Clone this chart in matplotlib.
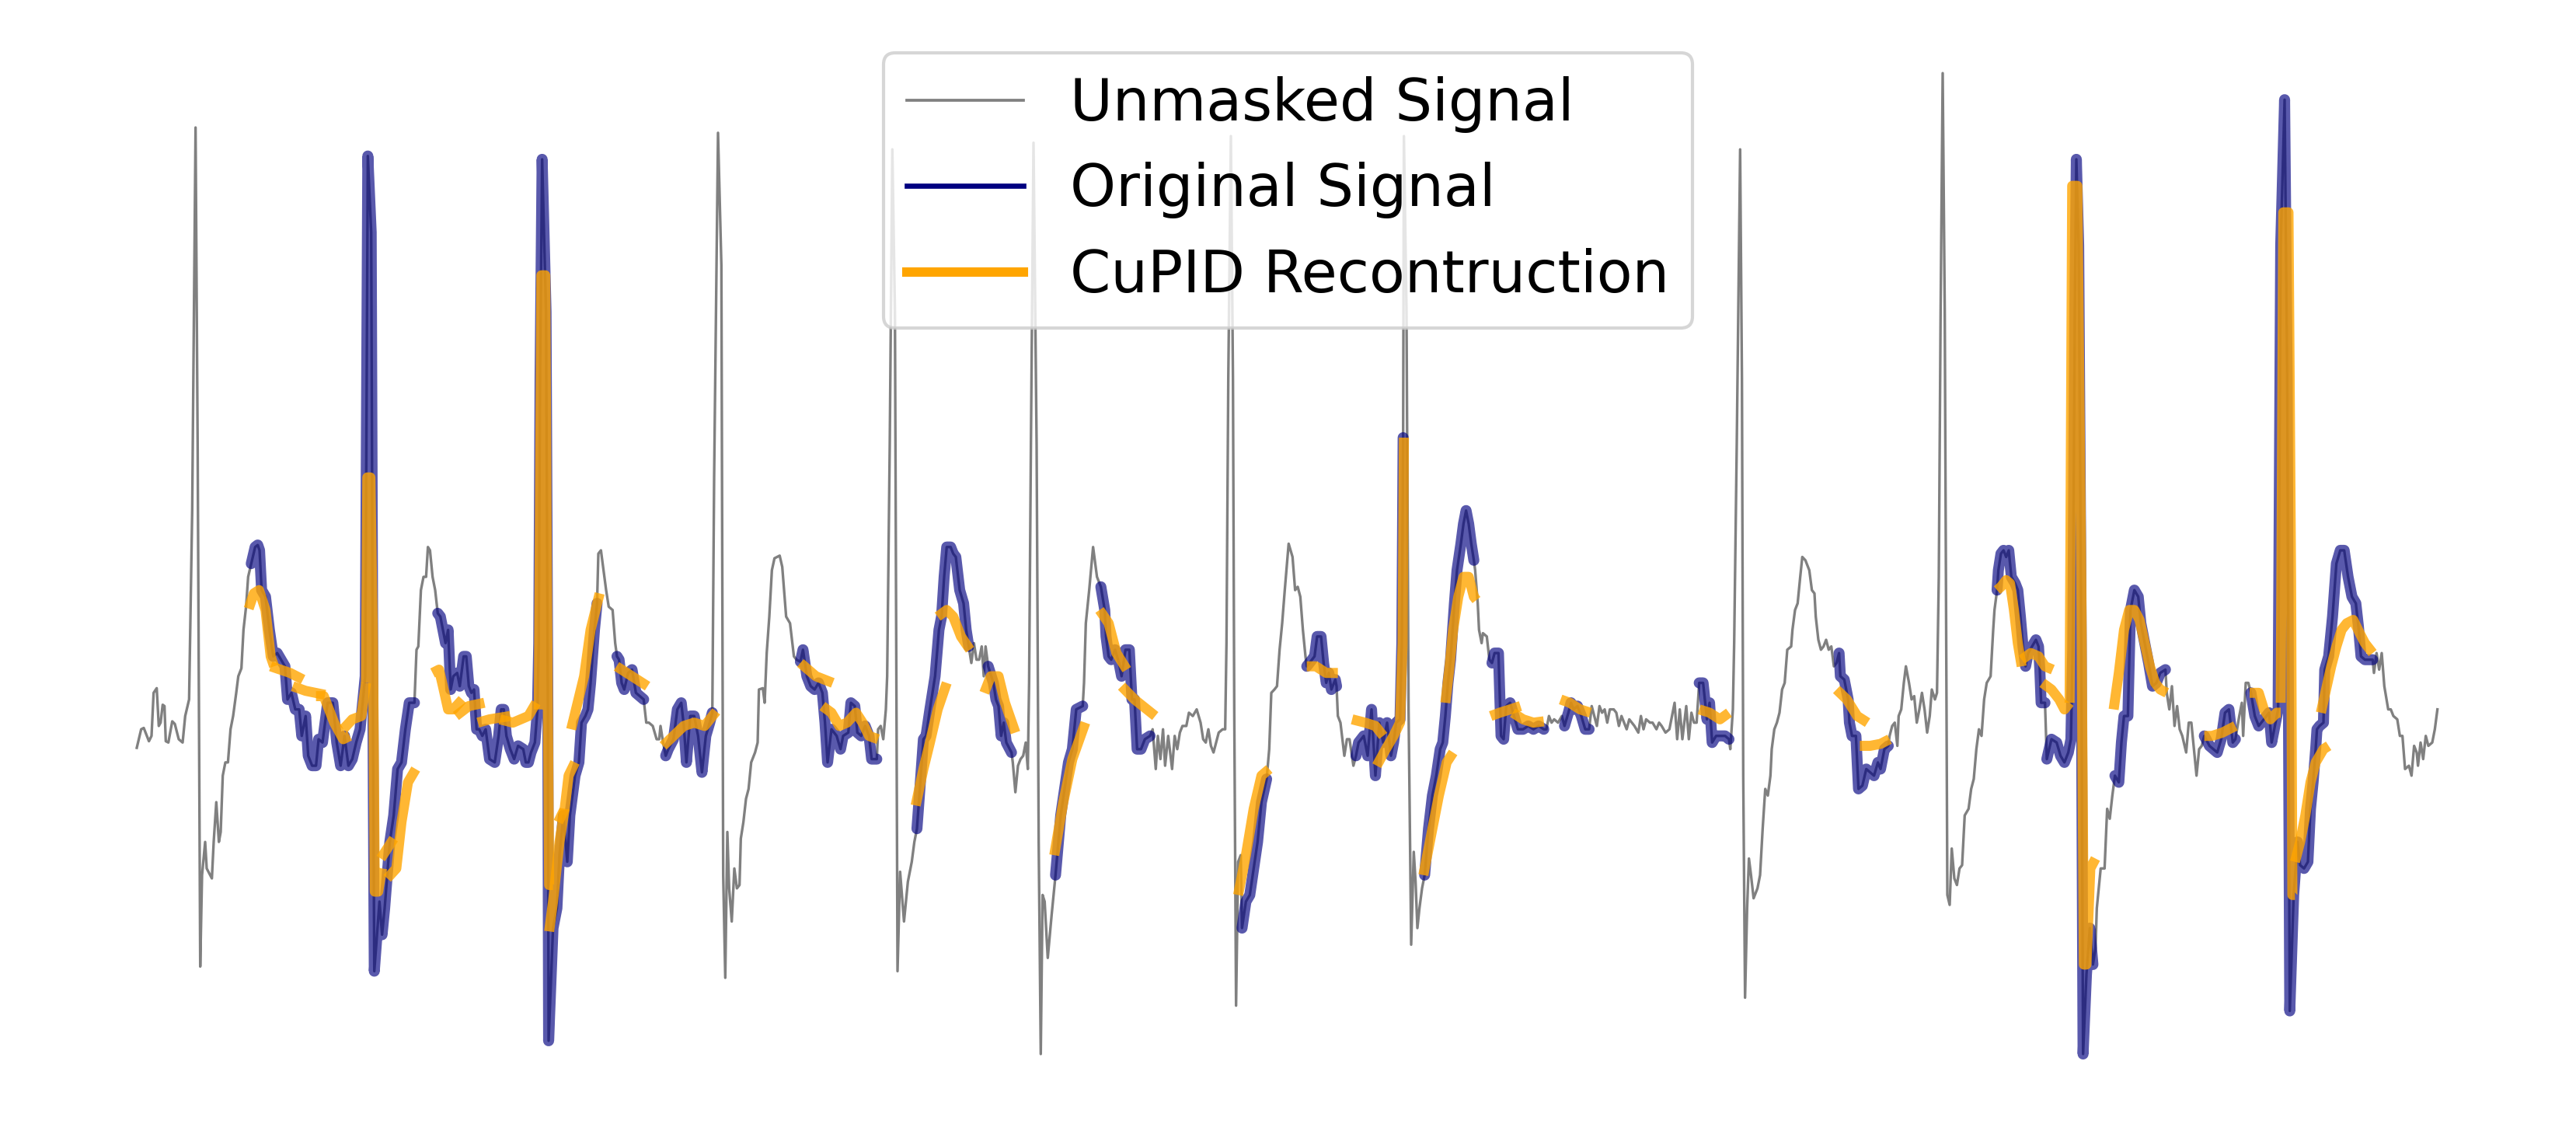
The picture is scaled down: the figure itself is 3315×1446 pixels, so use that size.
import numpy as np
import matplotlib
matplotlib.use('Agg')
import matplotlib.pyplot as plt
from matplotlib.lines import Line2D

# time axis (ms) and amplitude of the ecg window
t_ms = [3, 20, 30, 50, 60, 68, 80, 88, 95, 103, 110, 115, 125, 140, 150, 165, 180, 190, 205, 217,
        230, 238, 248, 255, 267, 273, 293, 300, 310, 320, 327, 335, 345, 355, 365, 375, 387, 395, 407, 415,
        425, 433, 445, 460, 470, 477, 485, 500, 515, 530, 545, 560, 575, 585, 600, 615, 630, 640, 655, 665,
        680, 695, 705, 720,
        740, 760, 775, 790, 805, 820, 835, 850, 865, 885, 895, 908, 915, 920, 940, 950, 960, 970, 980, 995,
        1010, 1025, 1040, 1055, 1075, 1083, 1090, 1100, 1110, 1120, 1127, 1135, 1145, 1155, 1165, 1175, 1185, 1195, 1205, 1215,
        1225, 1240, 1250, 1265, 1275, 1285, 1295, 1305, 1315, 1325, 1337, 1350, 1365, 1385, 1400, 1410, 1420, 1430, 1445, 1460,
        1475, 1495, 1505, 1515, 1525, 1540, 1550, 1555, 1560, 1568, 1583, 1590, 1593, 1610, 1625, 1635, 1650, 1665, 1675, 1695,
        1710, 1720, 1735, 1745, 1755, 1770, 1780, 1785, 1795, 1805, 1815, 1825, 1840, 1850, 1857, 1865, 1875, 1885, 1900, 1915,
        1930, 1945, 1960, 1970, 1980, 1995, 2010, 2020, 2025, 2035, 2045, 2055, 2075, 2090, 2105, 2115, 2125, 2140, 2155, 2170,
        2185, 2200, 2215, 2225,
        2232, 2247, 2260, 2267, 2275, 2283, 2290, 2300, 2310, 2320, 2330, 2335, 2345, 2355, 2365, 2375, 2390, 2400, 2405, 2420,
        2427, 2435, 2445, 2455, 2465, 2485, 2495, 2510, 2525, 2540, 2550, 2565, 2575, 2590, 2605, 2620, 2635, 2650, 2660, 2670,
        2685, 2705, 2720, 2730, 2750, 2760, 2775, 2785, 2800, 2815, 2830, 2840, 2860, 2865, 2875, 2885, 2895, 2900, 2910, 2920,
        2930, 2940, 2950, 2965, 2980,
        2995, 3005, 3015, 3030, 3040, 3050, 3065, 3085, 3100, 3110, 3120, 3130, 3145, 3155, 3165, 3180, 3195, 3205, 3215, 3225,
        3235, 3245, 3255, 3265, 3273, 3280, 3290, 3310, 3320, 3330, 3340, 3350, 3360, 3380, 3385, 3395, 3405, 3415, 3425, 3435,
        3443, 3448, 3455, 3465, 3477, 3485, 3493, 3500, 3508, 3520, 3535, 3550, 3570, 3585, 3600, 3615, 3630, 3655, 3660, 3667,
        3680, 3695, 3710, 3725,
        3740, 3745, 3755, 3765, 3780, 3795, 3805, 3820, 3835, 3845, 3855, 3865, 3880, 3895, 3915, 3925, 3937, 3945, 3955, 3965,
        3973, 3985, 4000, 4010, 4020, 4030, 4040, 4055, 4065, 4080, 4095, 4110, 4120, 4130, 4140, 4150, 4160, 4170, 4180, 4195,
        4205, 4210, 4217, 4227, 4235, 4240, 4247, 4255, 4265, 4270, 4285, 4300, 4315, 4330, 4345, 4365, 4375, 4383, 4395, 4405,
        4415, 4425, 4435, 4450, 4465, 4475, 4485,
        4495, 4505, 4515, 4520, 4540, 4550, 4560, 4575, 4585, 4595, 4605, 4615, 4630, 4635, 4640, 4650, 4665, 4675, 4685, 4700,
        4710, 4720, 4740, 4755, 4770, 4785, 4800, 4815, 4830, 4845, 4855, 4865, 4880, 4887, 4892, 4895, 4905, 4913, 4923, 4933,
        4940, 4947, 4955, 4965, 4975, 4990, 5005, 5020, 5035, 5045, 5055, 5065, 5075, 5090, 5100, 5115, 5125, 5135, 5145, 5155,
        5165, 5170, 5180, 5185, 5195, 5200, 5215, 5225,
        5235, 5245, 5260, 5270, 5280, 5290, 5305, 5320, 5335, 5355, 5375, 5395, 5415, 5435, 5445, 5455, 5465, 5475, 5490, 5505,
        5515, 5530, 5540, 5550, 5565, 5580, 5595, 5610, 5620, 5630, 5640, 5650, 5660, 5670, 5680, 5690, 5705, 5715, 5725, 5735,
        5745, 5755, 5765, 5775, 5785, 5800, 5810, 5820, 5830, 5845, 5855, 5870, 5880, 5890, 5905, 5920, 5930, 5940, 5950, 5960,
        5970, 5985,
        5995, 6005, 6015, 6025, 6035, 6050, 6065, 6075, 6085, 6100, 6115, 6135, 6150, 6155, 6165, 6170, 6180, 6193, 6200, 6205,
        6212, 6220, 6227, 6235, 6245, 6260, 6270, 6280, 6290, 6300, 6310, 6315, 6325, 6335, 6345, 6355, 6365, 6375, 6390, 6395,
        6405, 6415, 6425, 6433, 6445, 6460, 6470, 6480, 6485, 6495, 6505, 6515, 6525, 6535, 6545, 6555, 6565, 6575, 6580, 6595,
        6610, 6615, 6625, 6640, 6650, 6665, 6680, 6695, 6710, 6725,
        6735, 6750, 6765, 6770, 6780, 6790, 6800, 6805, 6815, 6825, 6833, 6845, 6855, 6865, 6875, 6885, 6895, 6905, 6915, 6925,
        6933, 6945, 6953, 6960, 6967, 6975, 6983, 6990, 6993, 7002, 7010, 7020, 7030, 7040, 7050, 7060, 7075, 7085, 7095, 7105,
        7115, 7125, 7135, 7145, 7160, 7170, 7175, 7185, 7190, 7200, 7210, 7220, 7230, 7240, 7255, 7265, 7275, 7285, 7295, 7305,
        7320, 7335, 7345, 7350, 7355, 7370, 7377, 7395, 7415, 7430, 7445, 7460,
        7470, 7477, 7485, 7491, 7500, 7510, 7517, 7530, 7543, 7555, 7565, 7570, 7585, 7600, 7610, 7620, 7630, 7640, 7655, 7665,
        7675, 7690, 7700, 7715, 7730, 7740, 7755, 7770, 7785, 7800, 7815, 7835, 7840, 7850, 7860, 7870, 7880, 7890, 7900, 7915,
        7925, 7935, 7945, 7955, 7965, 7975, 7985, 8005, 8020, 8035, 8050, 8065, 8080, 8095, 8105, 8120, 8130, 8135, 8145, 8155,
        8165, 8180, 8195, 8215,
        8235, 8245, 8260, 8270, 8280, 8295, 8305, 8310, 8315, 8330, 8345, 8355, 8370, 8385, 8395, 8405, 8415, 8420, 8430, 8445,
        8450, 8465, 8480, 8495, 8510, 8525, 8540, 8555, 8570, 8580, 8590, 8605, 8635, 8640, 8650, 8660, 8670, 8680, 8695, 8705,
        8715, 8730, 8740, 8750, 8760, 8775, 8785, 8795, 8805, 8810, 8820, 8830, 8840, 8850, 8865, 8875, 8885]

amp = [-0.38, -0.10, -0.08, -0.28, -0.20, 0.45, 0.52, -0.05, 0.00, 0.27, 0.25, -0.28, -0.30, 0.02, -0.02, -0.25, -0.30, 0.10, 0.35, 3.20,
       8.98, 4.20, -3.68, -2.30, -1.80, -2.20, -2.35, -1.80, -1.20, -1.80, -1.65, -0.80, -0.60, -0.60, -0.10, 0.10, 0.45, 0.70, 0.82, 1.40,
       1.75, 2.20, 2.40, 2.65, 2.68, 2.60, 2.00, 1.90, 1.40, 1.00, 1.05, 0.95, 0.85, 0.35, 0.45, 0.20, 0.20, -0.20, 0.10, -0.50,
       -0.65, -0.65, -0.25, -0.30,
       0.30, 0.30, -0.30, -0.65, -0.20, -0.65, -0.55, -0.30, -0.10, 0.70, 8.55, 7.40, 0.00, -3.75, -2.70, -3.20, -2.80, -2.30, -1.80, -1.40,
       -0.70, -0.60, -0.10, 0.30, 0.30, 1.10, 1.15, 2.00, 2.20, 2.20, 2.65, 2.60, 2.20, 2.00, 1.65, 1.60, 1.40, 1.20, 1.40, 0.50,
       0.70, 0.75, 0.55, 1.00, 1.00, 0.55, 0.45, 0.50, -0.10, -0.10, -0.20, -0.10, -0.55, -0.60, -0.20, 0.20, 0.20, -0.20, -0.40, -0.55,
       -0.35, -0.40, -0.60, -0.60, -0.45, -0.30, 0.20, 1.20, 5.20, 8.50, 6.20, 0.20, -4.80, -3.10, -2.80, -2.00, -1.40, -2.10, -1.40, -0.80,
       -0.60, 0.00, 0.10, 0.20, 0.60, 1.40, 1.80, 2.55, 2.60, 2.30, 2.00, 1.75, 1.70, 1.20, 1.00, 0.95, 0.60, 0.50, 0.75, 0.80,
       0.45, 0.40, 0.35, 0.00, 0.00, -0.05, -0.25, -0.25, -0.05, -0.30, -0.50, -0.40, -0.25, 0.20, 0.30, -0.05, -0.60, 0.10, 0.10, -0.20,
       -0.75, -0.20, 0.00, 0.15,
       3.70, 8.90, 6.90, -2.30, -3.85, -1.65, -2.50, -3.00, -2.20, -2.50, -2.45, -1.75, -1.50, -1.15, -1.00, -0.60, -0.45, -0.30, 0.50, 0.52,
       0.30, 1.05, 1.60, 2.30, 2.48, 2.52, 2.35, 1.60, 1.50, 1.00, 0.95, 0.92, 1.10, 0.70, 0.55, 0.50, 0.60, 0.45, 0.00, -0.60,
       -0.10, -0.20, -0.40, -0.20, -0.15, 0.30, 0.25, -0.15, -0.20, -0.05, -0.20, -0.55, -0.55, -0.10, -0.05, -0.25, 0.20, 0.70, 4.20, 8.65,
       6.20, -3.75, -2.25, -3.00, -2.40,
       -2.10, -1.80, -1.60, -0.80, -0.25, -0.20, 0.20, 0.70, 1.40, 1.60, 2.20, 2.65, 2.65, 2.55, 2.50, 2.00, 1.80, 1.40, 1.15, 0.90,
       1.20, 0.95, 0.95, 1.15, 0.70, 1.15, 0.85, 0.60, 0.35, 0.25, -0.20, 0.00, -0.30, -0.45, -0.60, -1.05, -0.65, -0.55, -0.50, -0.30,
       -0.70, 0.60, 4.20, 8.75, 4.20, -1.80, -5.00, -2.60, -2.70, -3.55, -2.90, -2.30, -1.40, -1.00, -0.60, -0.40, 0.20, 0.25, 0.60, 1.50,
       2.00, 2.65, 2.20, 2.05,
       1.70, 1.30, 1.00, 0.95, 1.10, 0.90, 0.70, 1.10, 1.10, 0.35, 0.35, -0.40, -0.40, -0.25, -0.20, -0.10, -0.70, -0.20, -0.55, -0.10,
       -0.65, -0.20, -0.70, -0.20, -0.40, -0.15, -0.05, -0.05, 0.15, 0.10, 0.20, 0.00, -0.25, -0.30, -0.10, -0.35, -0.45, -0.30, -0.15, -0.10,
       -0.10, 1.20, 5.20, 8.85, 5.20, 0.20, -4.27, -2.10, -2.00, -3.10, -2.70, -2.60, -2.20, -1.80, -1.20, -0.85, -0.40, 0.45, 0.50, 0.55,
       1.10, 1.50, 2.00, 2.70, 2.50, 2.00, 2.05,
       1.90, 1.40, 1.00, 0.85, 0.95, 1.00, 1.30, 1.30, 0.90, 0.60, 0.75, 0.50, 0.65, 0.55, 0.10, 0.00, -0.50, -0.25, -0.25, -0.65,
       -0.50, -0.30, -0.20, -0.50, 0.20, -0.80, 0.00, -0.30, 0.00, -0.50, -0.30, 0.00, 0.05, 1.20, 4.30, 8.85, 6.20, 0.20, -3.35, -1.95,
       -2.40, -3.10, -2.80, -2.50, -2.30, -1.60, -1.10, -0.80, -0.40, -0.30, 0.10, 0.60, 0.95, 1.80, 2.30, 2.70, 3.00, 3.20, 3.00, 2.70,
       2.45, 2.30, 1.80, 1.40, 1.20, 1.35, 1.30, 0.95,
       0.90, 1.05, 1.05, -0.20, -0.25, 0.25, 0.30, 0.10, -0.10, -0.10, -0.05, -0.10, -0.05, -0.10, -0.10, 0.10, 0.00, 0.05, 0.00, 0.10,
       -0.05, 0.15, 0.30, 0.20, 0.25, 0.10, -0.10, -0.10, 0.25, 0.10, -0.05, 0.25, 0.15, 0.20, 0.00, 0.20, 0.20, 0.15, -0.05, 0.10,
       0.00, -0.10, 0.05, 0.00, -0.05, -0.15, 0.10, -0.10, 0.05, 0.00, 0.00, -0.10, 0.00, -0.05, -0.15, -0.10, 0.10, 0.30, -0.25, 0.20,
       -0.25, 0.25,
       -0.25, 0.15, 0.00, 0.00, 0.60, 0.60, 0.05, 0.30, -0.30, -0.20, -0.20, -0.20, -0.25, -0.40, 0.20, 1.20, 4.20, 8.65, 5.20, -0.80,
       -4.15, -2.80, -2.05, -2.30, -2.65, -2.50, -2.30, -1.60, -1.00, -1.10, -0.80, -0.40, -0.10, 0.00, 0.15, 0.50, 0.60, 1.10, 1.15, 1.40,
       1.70, 1.80, 2.20, 2.50, 2.45, 2.30, 2.00, 1.95, 1.60, 1.25, 1.10, 1.15, 1.25, 1.10, 1.15, 0.85, 0.90, 1.05, 0.70, 0.65,
       0.35, 0.00, -0.20, -0.20, -1.00, -0.95, -0.70, -0.75, -0.80, -0.60,
       -0.70, -0.40, -0.35, -0.20, -0.05, 0.00, -0.35, 0.10, 0.20, 0.60, 0.85, 0.60, 0.35, 0.40, 0.00, 0.20, 0.45, 0.20, -0.15, 0.10,
       0.50, 0.35, 0.45, 2.20, 6.20, 9.80, 6.20, 0.20, -2.60, -2.75, -1.90, -2.35, -2.45, -2.20, -2.15, -1.40, -1.30, -1.00, -0.85, -0.40,
       -0.10, -0.20, 0.35, 0.60, 0.70, 1.40, 1.70, 2.00, 2.30, 2.55, 2.60, 2.50, 2.60, 2.20, 2.10, 2.00, 1.60, 1.15, 0.85, 1.05,
       1.15, 1.25, 1.15, 0.80, 0.30, 0.30, -0.55, -0.25, -0.30, -0.50, -0.60, -0.45,
       -0.25, 1.10, 6.20, 8.50, 7.20, 1.20, -5.00, -3.80, -3.10, -3.65, -3.40, -2.80, -2.20, -2.20, -1.30, -1.45, -1.10, -0.80, -0.90, -0.30,
       0.10, 0.10, 1.70, 2.00, 1.90, 1.50, 1.20, 0.90, 0.55, 0.60, 0.75, 0.80, 0.45, 0.20, 0.55, -0.05, 0.25, -0.10, -0.20, -0.45,
       0.00, 0.00, -0.40, -0.80, -0.40, -0.35, -0.20, -0.35, -0.40, -0.45, -0.25, 0.15, 0.20, -0.30, -0.25, 0.10, 0.30, -0.20, 0.60, 0.60,
       0.45, 0.10, -0.05, 0.05,
       0.15, -0.30, 0.00, 0.20, 7.20, 9.40, 5.20, 0.20, -4.35, -2.60, -1.80, -2.15, -2.20, -2.10, -1.30, -0.90, -0.40, -0.10, -0.05, 0.00,
       0.80, 1.00, 1.60, 2.40, 2.60, 2.60, 2.20, 1.90, 1.80, 1.45, 1.00, 0.95, 0.95, 0.75, 1.05, 0.80, 1.05, 0.55, 0.20, 0.20,
       0.10, 0.05, -0.20, -0.20, -0.70, -0.65, -0.80, -0.35, -0.45, -0.65, -0.30, -0.55, -0.20, -0.35, -0.30, -0.10, 0.20]

# masked windows (start, end) in ms
masked = [(445, 1075), (1165, 1780), (1857, 1960), (2045, 2225), (2565, 2860), (3015, 3215),
          (3290, 3380), (3550, 3655), (3725, 3915), (4270, 4365), (4520, 4635), (4710, 4892),
          (4975, 5165), (5235, 5435), (5515, 5610), (6035, 6150), (6575, 6765), (7185, 7370),
          (7377, 7555), (7640, 7835), (7985, 8105), (8165, 8635)]

# reconstruction, one piece per patch
recon_t = [[435, 455, 475, 500, 520, 533], [520, 595, 645], [605, 655, 730], [695, 725, 765, 800, 825],
           [800, 835, 870, 888], [888, 893, 905, 915, 922, 935, 950], [945, 995], [970, 1005, 1025, 1050, 1080],
           [1145, 1170, 1185, 1205, 1225, 1260], [1235, 1285, 1345], [1320, 1365, 1445], [1405, 1455, 1515, 1545],
           [1555, 1565, 1580, 1585, 1595, 1610], [1595, 1610, 1635, 1655], [1630, 1655, 1670, 1695],
           [1680, 1705, 1730, 1755, 1790], [1855, 1895, 1935, 1975], [2035, 2075, 2115, 2155, 2195, 2240],
           [2565, 2625, 2690], [2650, 2685, 2715, 2745, 2780, 2805, 2830, 2865], [3010, 3040, 3065, 3095, 3130],
           [3095, 3130, 3155, 3185, 3220], [3275, 3300, 3330, 3355, 3395], [3545, 3580, 3615, 3665],
           [3720, 3755, 3785, 3825], [3805, 3855, 3935], [4255, 4285, 4315, 4345, 4375], [4520, 4555, 4595, 4640],
           [4695, 4745, 4785, 4815], [4790, 4825, 4855, 4880, 4890, 4895], [4970, 5000, 5030, 5060, 5085],
           [5055, 5070, 5085, 5105, 5125, 5145, 5165, 5175], [5230, 5265, 5305, 5345], [5315, 5355, 5395, 5435],
           [5500, 5535, 5575, 5615], [6035, 6075, 6115, 6150], [6565, 6605, 6645, 6685], [6655, 6695, 6735, 6770],
           [7185, 7200, 7220, 7235, 7250, 7265, 7280], [7280, 7315, 7345, 7370, 7400], [7360, 7395, 7425, 7445, 7465],
           [7465, 7475, 7495, 7510, 7520, 7530, 7545, 7565],
           [7635, 7655, 7675, 7695, 7715, 7735, 7755, 7775, 7795, 7815, 7840], [7985, 8015, 8055, 8105],
           [8160, 8195, 8215, 8240, 8265, 8280], [8280, 8290, 8310, 8320, 8325, 8335],
           [8335, 8355, 8375, 8395, 8415, 8445, 8465], [8435, 8455, 8475, 8495, 8515, 8535, 8560, 8585, 8605, 8635]]
recon_v = [[1.72, 1.95, 2.00, 1.70, 1.00, 0.85], [0.85, 0.75, 0.65], [0.55, 0.48, 0.42], [0.40, 0.40, 0.00, -0.25, -0.20],
           [-0.10, 0.05, 0.10, 0.60], [0.60, 3.70, 3.70, 1.20, -2.55, -2.55, -2.20], [-2.05, -1.75], [-2.35, -2.20, -1.50, -0.90, -0.70],
           [0.75, 0.80, 0.55, 0.20, 0.20, 0.35], [0.10, 0.25, 0.30], [0.00, 0.05, 0.10], [0.05, 0.00, 0.10, 0.30],
           [0.20, 6.75, 6.75, 3.20, -2.45, -2.45], [-3.15, -2.70, -1.80, -1.30], [-1.50, -1.30, -0.80, -0.60],
           [-0.10, 0.30, 0.70, 1.40, 1.95], [0.85, 0.75, 0.65, 0.55], [-0.35, -0.20, -0.05, 0.00, -0.05, 0.17],
           [0.90, 0.70, 0.60], [0.25, 0.15, -0.05, 0.00, 0.15, 0.00, -0.20, -0.25], [-1.25, -0.70, -0.30, 0.20, 0.60],
           [1.60, 1.70, 1.60, 1.30, 1.10], [0.45, 0.70, 0.70, 0.30, -0.15], [-2.00, -1.20, -0.55, 0.00],
           [1.70, 1.50, 1.05, 0.80], [0.55, 0.35, 0.10], [-2.60, -2.00, -1.30, -0.80, -0.70], [0.85, 0.85, 0.75, 0.75],
           [0.05, 0.00, -0.05, -0.20], [-0.65, -0.40, -0.20, 0.00, 1.20, 4.30], [-2.30, -1.70, -1.10, -0.60, -0.45],
           [0.30, 0.80, 1.40, 1.90, 2.20, 2.20, 1.90, 1.85], [0.10, 0.15, 0.20, 0.25], [0.15, 0.05, 0.00, 0.02],
           [0.35, 0.30, 0.20, 0.15], [0.20, 0.15, 0.05, 0.15], [0.50, 0.35, 0.10, 0.00], [-0.35, -0.35, -0.32, -0.25],
           [2.00, 2.05, 2.15, 2.10, 1.70, 1.20, 0.85], [0.95, 1.05, 1.00, 0.85, 0.80], [0.60, 0.50, 0.35, 0.20, 0.30],
           [0.30, 8.10, 8.10, 2.20, -3.65, -3.65, -2.20, -2.05],
           [0.20, 0.75, 1.40, 1.70, 1.70, 1.55, 1.20, 0.85, 0.60, 0.50, 0.45], [-0.20, -0.20, -0.15, -0.05],
           [0.45, 0.45, 0.20, 0.05, 0.15, 0.15], [0.30, 7.70, 7.70, 2.20, -2.60, -2.60],
           [-2.10, -1.80, -1.40, -0.90, -0.60, -0.40, -0.35], [0.15, 0.50, 0.85, 1.15, 1.40, 1.50, 1.55, 1.35, 1.20, 1.05]]

labels = ['Unmasked Signal', 'Original Signal', 'CuPID Recontruction']

t = np.array(t_ms, dtype=float)
y = np.array(amp)
assert len(t) == len(y)

fig = plt.figure(figsize=(11.05, 4.82), dpi=300)
ax = fig.add_axes([0, 0, 1, 1])

ax.plot(t, y, color='gray', lw=0.8, zorder=1)

for a, b in masked:
    sel = (t >= a) & (t <= b)
    ax.plot(t[sel], y[sel], color='navy', lw=3.4, alpha=0.65,
            solid_capstyle='round', zorder=2)

for rt, rv in zip(recon_t, recon_v):
    ax.plot(rt, rv, color='orange', lw=3.1, alpha=0.8,
            solid_capstyle='butt', zorder=3)

ax.set_xlim(-525, 9420)
ax.set_ylim(-6.056, 10.904)
ax.axis('off')

handles = [Line2D([], [], color='gray', lw=0.9),
           Line2D([], [], color='navy', lw=1.6),
           Line2D([], [], color='orange', lw=2.9)]
ax.legend(handles, labels, loc='upper center', bbox_to_anchor=(0.5, 0.953),
          borderaxespad=0, fontsize=18)

fig.savefig('out.png', dpi=300)
